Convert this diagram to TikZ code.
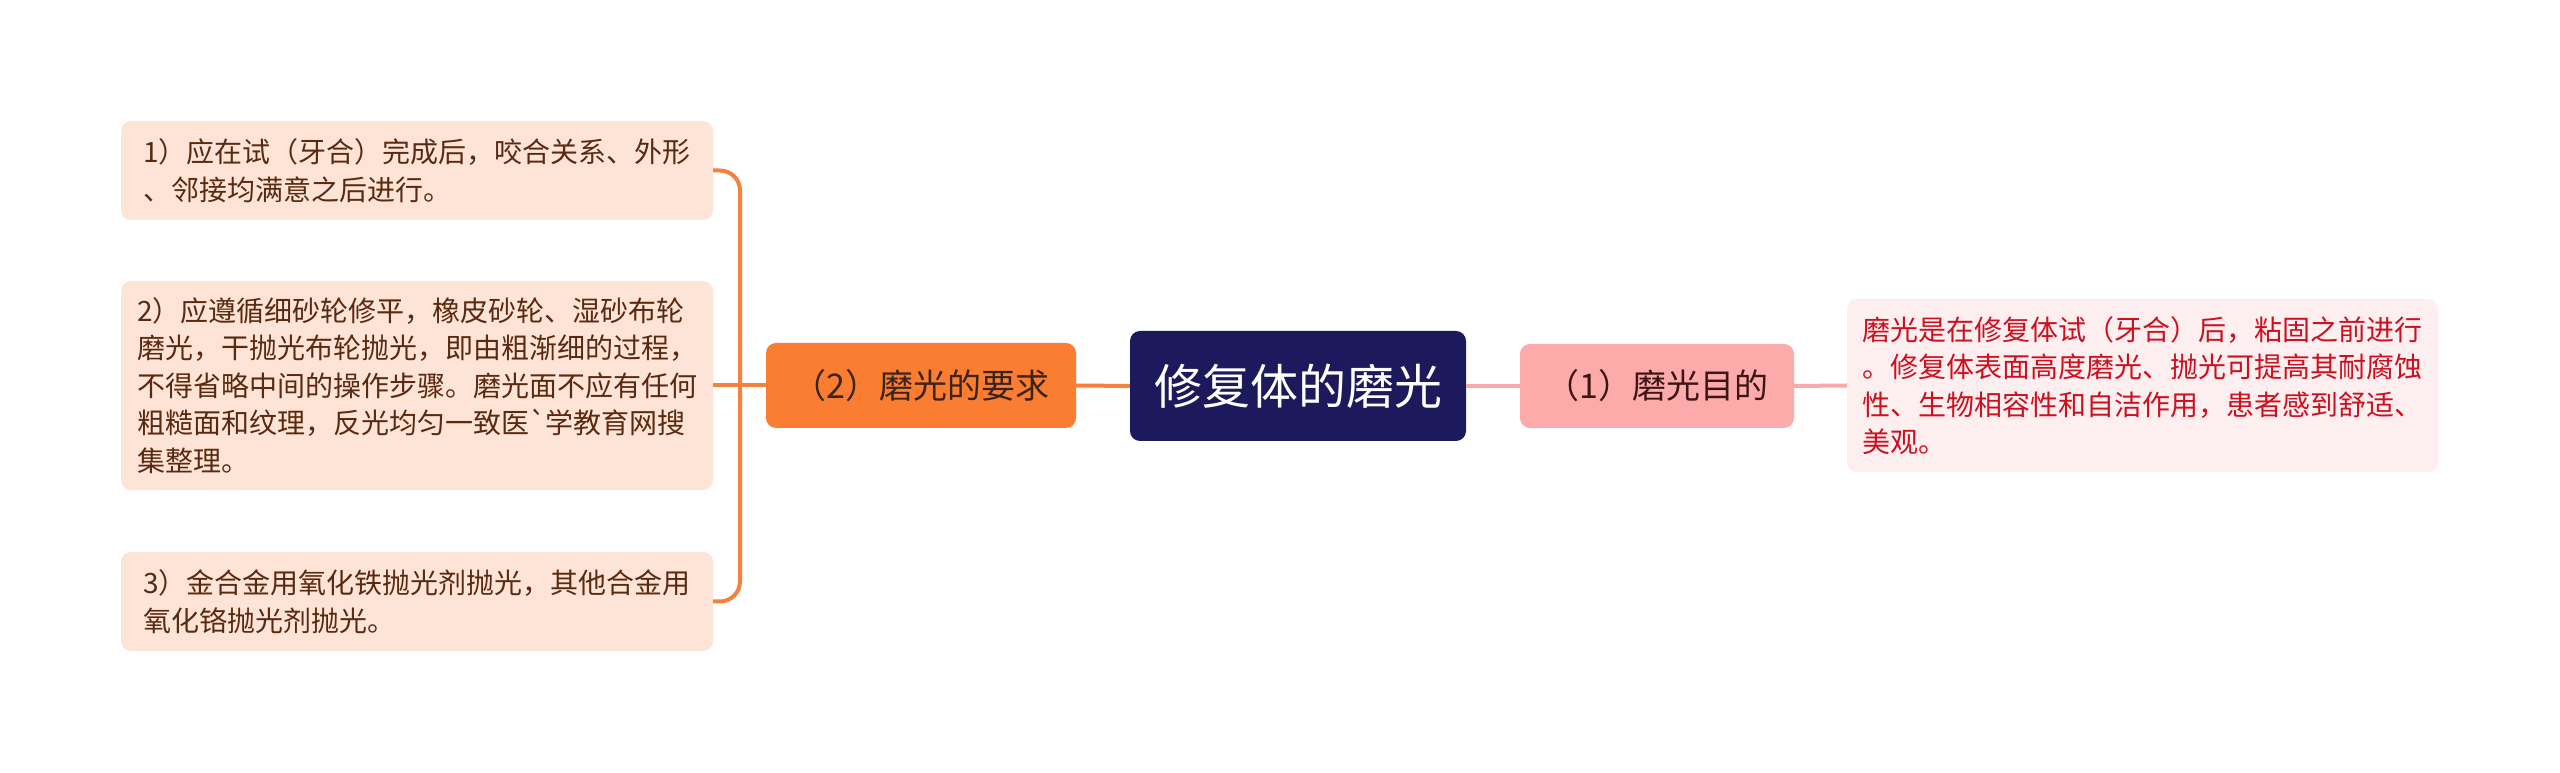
\documentclass[tikz,border=0pt]{standalone}
\usepackage{fontspec}
\newfontfamily\cjk{Noto Sans CJK SC}
\definecolor{leaffill}{HTML}{FDE4D7}
\definecolor{leaftext}{HTML}{5A2A10}
\definecolor{orangefill}{HTML}{FA7D32}
\definecolor{orangetext}{HTML}{3A2418}
\definecolor{rootfill}{HTML}{1C1A5C}
\definecolor{pinkfill}{HTML}{FDAAAA}
\definecolor{pinktext}{HTML}{3E1515}
\definecolor{rfill}{HTML}{FDEFEF}
\definecolor{rtext}{HTML}{CC1020}
\definecolor{olinec}{HTML}{F5813A}
\definecolor{plinec}{HTML}{F9A9A9}
\begin{document}
\begin{tikzpicture}[x=1pt,y=1pt,
  leaf/.style={rectangle, rounded corners=10pt, fill=leaffill, text=leaftext, minimum width=592pt, align=left, inner sep=0pt, font=\cjk\fontsize{28}{37.5}\selectfont},
  rleaf/.style={rectangle, rounded corners=10pt, fill=rfill, text=rtext, minimum width=591pt, align=left, inner sep=0pt, font=\cjk\fontsize{28}{37.5}\selectfont},
  branchbox/.style={rectangle, rounded corners=10pt, inner sep=0pt, font=\cjk\fontsize{34}{40}\selectfont},
  rootbox/.style={rectangle, rounded corners=10pt, inner sep=0pt, fill=rootfill, text=white, minimum width=336pt, minimum height=110pt, font=\cjk\fontsize{48}{56}\selectfont},
  oline/.style={draw=olinec, line width=4pt},
  pline/.style={draw=plinec, line width=4pt}
]
\useasboundingbox (0,0) rectangle (2560,773);
\fill[white] (0,0) rectangle (2560,773);

\node[rootbox] (root) at (1298,387) {修复体的磨光};
\node[branchbox, fill=orangefill, text=orangetext, minimum width=310pt, minimum height=85pt] (req) at (921,387.5) {（2）磨光的要求};
\node[branchbox, fill=pinkfill, text=pinktext, minimum width=274pt, minimum height=84pt] (aim) at (1657,387) {（1）磨光目的};

\node[leaf, minimum height=99pt] (l1) at (417,602.5) {1）应在试（牙合）完成后，咬合关系、外形\\、邻接均满意之后进行。};
\node[leaf, minimum height=209pt] (l2) at (417,387.5) {2）应遵循细砂轮修平，橡皮砂轮、湿砂布轮\\磨光，干抛光布轮抛光，即由粗渐细的过程，\\不得省略中间的操作步骤。磨光面不应有任何\\粗糙面和纹理，反光均匀一致医{\char96}学教育网搜\\集整理。};
\node[leaf, minimum height=99pt] (l3) at (417,171.5) {3）金合金用氧化铁抛光剂抛光，其他合金用\\氧化铬抛光剂抛光。};

\node[rleaf, minimum height=173pt] (r1) at (2142.5,387.5) {磨光是在修复体试（牙合）后，粘固之前进行\\。修复体表面高度磨光、抛光可提高其耐腐蚀\\性、生物相容性和自洁作用，患者感到舒适、\\美观。};

\coordinate (j) at (740,387.5);
\draw[oline] (root.west) -- (req.east);
\draw[oline] (req.west) -- (l2.east);
\draw[oline, rounded corners=20pt] (j) |- (l1.east);
\draw[oline, rounded corners=20pt] (j) |- (l3.east);
\draw[pline] (root.east) -- (aim.west);
\draw[pline] (aim.east) -- (r1.west);
\end{tikzpicture}
\end{document}
